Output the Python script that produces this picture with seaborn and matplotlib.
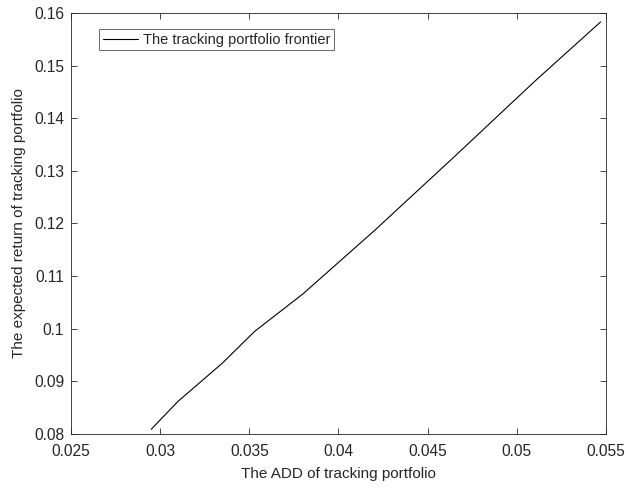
import numpy as np
import pandas as pd
import matplotlib
matplotlib.use('Agg')
import matplotlib.pyplot as plt
import seaborn as sns

# данные
add_values = [0.0295, 0.0310, 0.0335, 0.0353, 0.0380, 0.0420, 0.0465, 0.0510, 0.0547]
expected_return = [0.0809, 0.0862, 0.0935, 0.0995, 0.1066, 0.1186, 0.1327, 0.1470, 0.1583]
x_ticks = [0.025, 0.03, 0.035, 0.04, 0.045, 0.05, 0.055]
x_tick_labels = ['0.025', '0.03', '0.035', '0.04', '0.045', '0.05', '0.055']
y_ticks = [0.08, 0.09, 0.1, 0.11, 0.12, 0.13, 0.14, 0.15, 0.16]
y_tick_labels = ['0.08', '0.09', '0.1', '0.11', '0.12', '0.13', '0.14', '0.15', '0.16']

df = pd.DataFrame({'ADD': add_values, 'ret': expected_return})

sns.set_theme(style='white')
plt.rcParams['font.family'] = ['Liberation Sans', 'DejaVu Sans']
gray = '#262626'
plt.rcParams['axes.edgecolor'] = gray
plt.rcParams['xtick.color'] = gray
plt.rcParams['ytick.color'] = gray

fig = plt.figure(figsize=(6.26, 4.91), dpi=100)
ax = fig.add_axes([0.1134, 0.1161, 0.8546, 0.8575])

sns.lineplot(data=df, x='ADD', y='ret', ax=ax, color='black', linewidth=0.8,
             sort=False, label='The tracking portfolio frontier')

ax.set_xlim(0.025, 0.055)
ax.set_ylim(0.08, 0.16)
ax.set_xticks(x_ticks)
ax.set_xticklabels(x_tick_labels)
ax.set_yticks(y_ticks)
ax.set_yticklabels(y_tick_labels)
ax.tick_params(direction='in', length=4, width=0.6, top=True, right=True,
               labelsize=11.2, labelcolor=gray, bottom=True, left=True)
ax.tick_params(axis='x', pad=7)
ax.tick_params(axis='y', pad=5)
for sp in ax.spines.values():
    sp.set_linewidth(0.6)
    sp.set_color(gray)

ax.set_xlabel('The ADD of tracking portfolio', fontsize=11, color=gray, labelpad=6)
ax.set_ylabel('The expected return of tracking portfolio', fontsize=11, color=gray, labelpad=6)

leg = ax.legend(loc='upper left', bbox_to_anchor=(0.0523, 0.962), fontsize=10.5,
                frameon=True, fancybox=False, handlelength=2.45, borderpad=0.25,
                handletextpad=0.34, borderaxespad=0)
leg.get_frame().set_edgecolor(gray)
leg.get_frame().set_linewidth(0.6)

plt.savefig('out.png', dpi=100)
plt.close()
